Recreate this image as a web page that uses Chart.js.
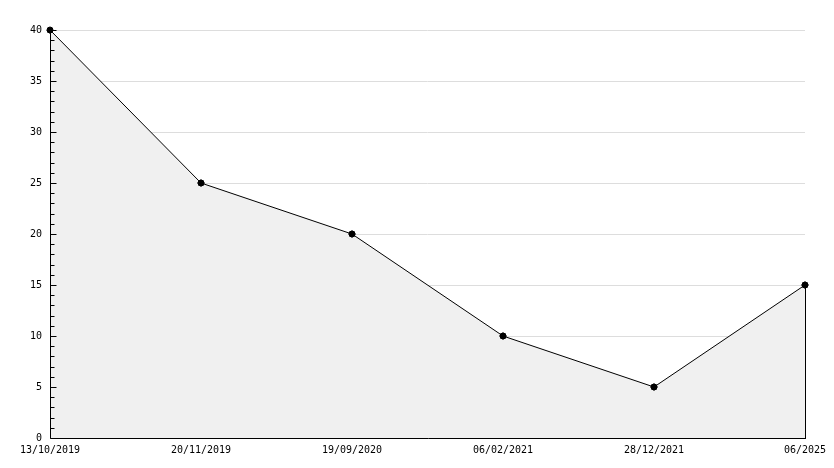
<!DOCTYPE html>
<html>
<head>
<meta charset="utf-8">
<script src="https://cdn.jsdelivr.net/npm/chart.js@4/dist/chart.umd.min.js"></script>
<style>
html,body{margin:0;padding:0;background:#fff;}
#wrap{width:834px;height:468px;position:relative;}
</style>
</head>
<body>
<div id="wrap"><canvas id="c" width="834" height="468"></canvas></div>
<script>
const categories = ["13/10/2019", "20/11/2019", "19/09/2020", "06/02/2021", "28/12/2021", "06/2025"];
const values = [40, 25, 20, 10, 5, 15];
const yMin = 0, yMax = 40, yMajorStep = 5, yMinorStep = 1;

const axisPlugin = {
  id: 'axisPlugin',
  afterDatasetsDraw(chart) {
    const ctx = chart.ctx;
    const x = chart.scales.x, y = chart.scales.y;
    const area = chart.chartArea;
    ctx.save();
    ctx.strokeStyle = '#000';
    ctx.lineWidth = 1;
    // right edge of filled area
    const lastIdx = values.length - 1;
    const lx = Math.round(x.getPixelForValue(lastIdx)) + 0.5;
    ctx.beginPath();
    ctx.moveTo(lx, y.getPixelForValue(values[lastIdx]));
    ctx.lineTo(lx, y.getPixelForValue(0));
    ctx.stroke();
    // axis lines
    const ax = Math.round(area.left) + 0.5;
    const ay = Math.round(area.bottom) + 0.5;
    ctx.beginPath();
    ctx.moveTo(ax, Math.round(area.top));
    ctx.lineTo(ax, ay);
    ctx.lineTo(Math.round(area.right) + 1, ay);
    ctx.stroke();
    // ticks
    ctx.beginPath();
    for (let v = yMin; v <= yMax; v += yMinorStep) {
      const py = Math.round(y.getPixelForValue(v)) + 0.5;
      const len = (v % yMajorStep === 0) ? 6 : 4;
      ctx.moveTo(ax, py);
      ctx.lineTo(ax + len, py);
    }
    ctx.stroke();
    ctx.restore();
    // redraw points on top
    const meta = chart.getDatasetMeta(0);
    meta.data.forEach(p => p.draw(ctx, area));
  }
};

new Chart(document.getElementById('c'), {
  type: 'line',
  data: {
    labels: categories,
    datasets: [{
      data: values,
      borderColor: '#000',
      borderWidth: 1,
      backgroundColor: '#f0f0f0',
      fill: 'origin',
      tension: 0,
      pointRadius: 3,
      pointBackgroundColor: '#000',
      pointBorderColor: '#000',
      pointBorderWidth: 1,
      pointStyle: 'circle'
    }]
  },
  options: {
    responsive: false,
    animation: false,
    devicePixelRatio: 1,
    layout: { padding: { left: 0, right: 29, top: 30, bottom: 0 } },
    plugins: { legend: { display: false }, tooltip: { enabled: false }, title: { display: false } },
    elements: { line: { borderJoinStyle: 'miter' } },
    scales: {
      x: {
        type: 'category',
        offset: false,
        grid: { display: false, drawTicks: false },
        border: { display: false },
        ticks: {
          color: '#000',
          font: { family: 'DejaVu Sans Mono', size: 10 },
          maxRotation: 0, minRotation: 0, autoSkip: false, padding: 6
        },
        afterFit(s) { s.height = 30; }
      },
      y: {
        min: yMin, max: yMax,
        grid: {
          drawTicks: false,
          color: (c) => (c.tick && c.tick.value === 0) ? 'rgba(0,0,0,0)' : '#dddddd',
          lineWidth: 1
        },
        border: { display: false },
        ticks: {
          stepSize: yMajorStep,
          color: '#000',
          font: { family: 'DejaVu Sans Mono', size: 10 },
          padding: 8
        },
        afterFit(s) { s.width = 50; }
      }
    }
  },
  plugins: [axisPlugin]
});
</script>
</body>
</html>
